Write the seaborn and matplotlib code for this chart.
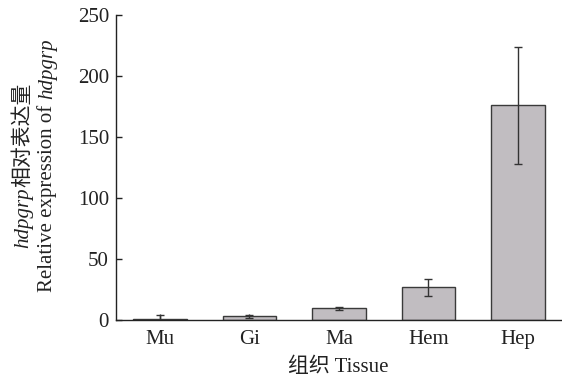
import matplotlib
matplotlib.use('Agg')
import matplotlib.pyplot as plt
import seaborn as sns

tissues = ['Mu', 'Gi', 'Ma', 'Hem', 'Hep']
expression = [1.0, 3.0, 9.5, 27.0, 176.0]
errors = [3.0, 1.5, 1.5, 7.0, 48.0]

sns.set_style('ticks')
plt.rcParams['font.family'] = ['Liberation Serif', 'Noto Sans CJK SC']

W, H = 562, 380
fig = plt.figure(figsize=(W / 100, H / 100), dpi=100)
ax = fig.add_axes([116 / W, 1 - 320 / H, 1 - 116 / W - 0.002, (320 - 15) / H])

sns.barplot(x=tissues, y=expression, color='#c1bdc1', edgecolor='#3a3a3a',
            linewidth=1.0, width=0.6, saturation=1, errorbar=None, ax=ax)
ax.errorbar(range(len(tissues)), expression, yerr=errors, fmt='none',
            ecolor='#333333', elinewidth=1.0, capsize=3, capthick=1.0)

ax.set_xlim(-0.49, 4.48)
ax.set_ylim(0, 250)
ax.set_yticks([0, 50, 100, 150, 200, 250])
ax.tick_params(axis='both', direction='in', length=4, width=1,
               labelsize=15, colors='#222222')
ax.tick_params(axis='x', pad=7)
ax.tick_params(axis='y', pad=5)
sns.despine(ax=ax)
for s in ['left', 'bottom']:
    ax.spines[s].set_color('#222222')
    ax.spines[s].set_linewidth(1.0)

ax.set_xlabel('组织 Tissue', fontsize=15, color='#222222', labelpad=6)

# two-line y label, built from pieces so italic gene name and CJK text mix
renderer = fig.canvas.get_renderer()
lines = [
    (28, [('hdpgrp', 'italic'), ('相对表达量', 'normal')]),
    (52, [('Relative expression of ', 'normal'), ('hdpgrp', 'italic')]),
]
for xb, pieces in lines:
    texts = []
    for s, st in pieces:
        t = fig.text(xb / W, 0, s, rotation=90, rotation_mode='anchor',
                     ha='left', va='baseline', fontsize=15, fontstyle=st,
                     color='#222222')
        texts.append(t)
    lengths = [t.get_window_extent(renderer).height for t in texts]
    y = (H - 165) - sum(lengths) / 2
    for t, ln in zip(texts, lengths):
        t.set_y(y / H)
        y += ln

fig.savefig('out.png', dpi=100)
